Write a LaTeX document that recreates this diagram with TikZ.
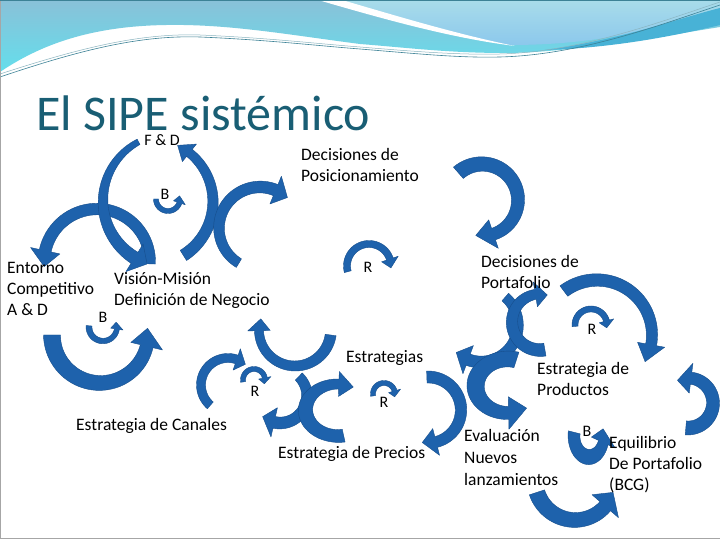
\documentclass[tikz,border=0pt]{standalone}
\usepackage{fontspec}
\setmainfont{Carlito}
\definecolor{arrowblue}{RGB}{30,98,172}
\definecolor{arrowedge}{RGB}{22,78,140}
\definecolor{titlecol}{RGB}{25,94,116}
\definecolor{hdtop}{RGB}{137,193,216}
\definecolor{hdbot}{RGB}{100,222,236}
\definecolor{hdlight}{RGB}{168,220,234}
\definecolor{hdlight2}{RGB}{140,200,236}
\definecolor{hdband}{RGB}{72,178,214}
\definecolor{hdline}{RGB}{60,130,150}
\newcommand{\mlines}[1]{\begin{tabular}[t]{@{}l@{}}#1\end{tabular}}
% curved block arrow: [opts]{cx}{cy px from top}{r}{a1}{a2}{w tail}{w head base}{head length}
\newcommand{\carw}[9][]{%
  \begin{scope}[shift={(#2,540-#3)},#1]
    \pgfmathsetmacro{\caS}{ifthenelse((#6)>(#5),1,-1)}
    \pgfmathsetmacro{\caM}{(#6)-\caS*(#9)/(#4)*57.2958}
    \pgfmathsetmacro{\caH}{1.25*(#8)}
    \filldraw[arrowfill] plot[domain=#5:\caM,samples=40,variable=\t]
      (\t:{#4+(#7+(#8-#7)*(\t-(#5))/(\caM-(#5)))/2})
      -- (\caM:{#4+\caH}) -- (#6:#4) -- (\caM:{#4-\caH})
      -- plot[domain=\caM:#5,samples=40,variable=\t]
      (\t:{#4-(#7+(#8-#7)*(\t-(#5))/(\caM-(#5)))/2}) -- cycle;
  \end{scope}}
\tikzset{
  arrowfill/.style={fill=arrowblue,draw=arrowedge,line width=0.4pt,line join=round},
  lbl/.style={anchor=base west,inner sep=0pt,font=\fontsize{17.5}{21}\selectfont},
  lbltwo/.style={anchor=base west,inner sep=0pt,font=\fontsize{17.5}{22}\selectfont},
  loopmark/.style={anchor=base,inner sep=0pt,font=\fontsize{16}{19}\selectfont},
}
\begin{document}
\begin{tikzpicture}[x=1pt,y=1pt]
\useasboundingbox (0,0) rectangle (720,540);
\fill[white] (0,0) rectangle (720,540);
% header waves
\shade[top color=hdtop,bottom color=hdbot] (0,540) -- (720,540) -- (720,513)
  .. controls (640,500) and (560,487) .. (505,487)
  .. controls (450,487) and (410,492) .. (360,496)
  .. controls (290,505) and (230,516) .. (167,515)
  .. controls (90,514) and (40,495) .. (0,468) -- cycle;
\shade[top color=hdlight,bottom color=hdlight2] (335,540) -- (720,540) -- (720,530)
  .. controls (640,505) and (580,495) .. (510,495)
  .. controls (450,505) and (390,525) .. (335,540) -- cycle;
\fill[white] (318,540) -- (342,540) .. controls (400,523) and (460,505) .. (515,494)
  .. controls (450,502) and (380,522) .. (318,540) -- cycle;
\fill[hdband] (545,490) .. controls (620,500) and (680,522) .. (720,532) -- (720,515)
  .. controls (670,503) and (610,492) .. (545,490) -- cycle;
\draw[hdline,line width=0.6pt] (0,463) .. controls (80,490) and (140,505) .. (200,503)
  .. controls (270,500) and (320,494) .. (360,491)
  .. controls (420,486) and (460,482) .. (500,483)
  .. controls (580,485) and (660,515) .. (720,535);
\draw[hdline!60,line width=0.5pt] (0,466) .. controls (80,492) and (140,507) .. (200,505)
  .. controls (270,502) and (320,496) .. (360,493)
  .. controls (420,488) and (460,485) .. (500,486)
  .. controls (580,488) and (660,518) .. (720,538);
\draw[gray!70,line width=1pt] (0.5,540) -- (0.5,1) -- (720,1);
\draw[hdline,line width=1pt] (0,539.5) -- (720,539.5);

% title
\node[anchor=base west,inner sep=0pt,text depth=0pt,text=titlecol,font=\fontsize{50}{60}\selectfont] (title) at (36,409) {El SIPE sistémico};

% arrows
\carw{97}{262}{53}{-2}{185}{11}{12}{16}
\carw{170}{201}{67}{118}{250}{6}{13}{14}
\carw{150}{202}{63}{-58}{64}{12}{9}{14}
\carw{168}{199}{12}{180}{375}{5}{5}{7}
\carw{260}{228}{41}{239}{48}{10}{12}{14}
\carw{482}{200}{36}{131}{-100}{15}{12}{18}
\carw{369}{266}{22}{195}{-5}{7}{7}{9}
\carw{597}{335}{55}{127}{-29}{13}{11}{18}
\carw{591}{325}{16}{185}{-10}{6}{6}{7}
\carw{481}{325}{37}{49}{-132}{10}{12}{14}
\carw{540}{322}{28}{280}{75}{13}{10}{12}
\carw[xscale=1.2]{508}{386}{27}{75}{305}{16}{13}{16}
\carw{428}{410}{33}{92}{-100}{12}{11}{14}
\carw{384}{394}{11}{190}{-15}{5}{5}{6}
\carw[yscale=1.4]{589}{436}{15}{170}{380}{12}{10}{10}
\carw{575}{480}{40}{198}{342}{16}{14}{16}
\carw{688}{403}{25}{-95}{115}{14}{12}{14}
\carw{100}{335}{48}{180}{368}{17}{13}{18}
\carw{103}{327}{14}{175}{380}{6}{5}{7}
\carw{228}{385}{27}{229}{50}{9}{9}{10}
\carw{254}{380}{11}{190}{-20}{5}{5}{6}
\carw{295}{330}{36}{-8}{-198}{11}{9}{12}
\carw{280}{396}{27}{46}{-130}{10}{12}{13}
\carw[xscale=1.25]{338}{410}{26}{280}{62}{13}{10}{12}

% labels
\node[loopmark] (fd) at (162,394) {F \& D};
\node[lbl] (posic) at (301,379) {\mlines{Decisiones de\\Posicionamiento}};
\node[loopmark] (b1) at (165,340) {B};
\node[lbl] (entorno) at (7,266) {\mlines{Entorno\\Competitivo\\A \& D}};
\node[lbl] (vision) at (114,255) {\mlines{Visión-Misión\\Definición de Negocio}};
\node[loopmark] (b2) at (103,217) {B};
\node[loopmark] (r1) at (368,267) {R};
\node[lbl] (portaf) at (481,272) {\mlines{Decisiones de\\Portafolio}};
\node[loopmark] (r2) at (592,205) {R};
\node[lbl] (estrat) at (346,177) {Estrategias};
\node[loopmark] (r3) at (255,143) {R};
\node[loopmark] (r4) at (384,132) {R};
\node[lbl] (prod) at (537,165) {\mlines{Estrategia de\\Productos}};
\node[lbl] (canales) at (76,109) {Estrategia de Canales};
\node[lbl] (precios) at (278,81) {Estrategia de Precios};
\node[lbltwo] (eval) at (464,98) {\mlines{Evaluación\\Nuevos\\lanzamientos}};
\node[loopmark] (b3) at (587,103) {B};
\node[lbl] (equil) at (609,91) {\mlines{Equilibrio\\De Portafolio\\(BCG)}};
\end{tikzpicture}
\end{document}
